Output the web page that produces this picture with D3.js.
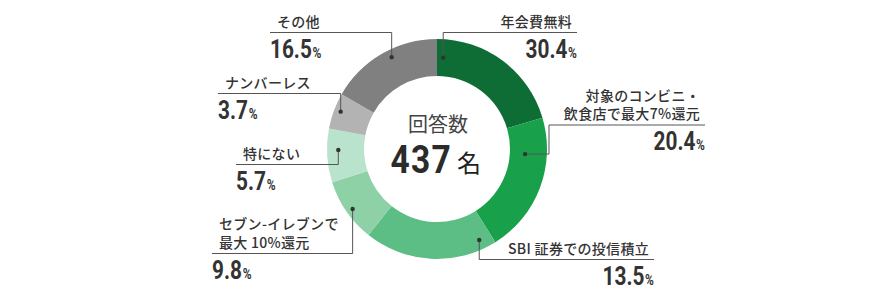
<!DOCTYPE html>
<html>
<head>
<meta charset="utf-8">
<script src="https://cdn.jsdelivr.net/npm/d3@7"></script>
<style>
  html, body { margin: 0; padding: 0; background: #fff; }
  .jp { font-family: 'Noto Sans CJK JP', sans-serif; }
  .num { font-family: 'Roboto', 'Liberation Sans', sans-serif; font-weight: 700; }
</style>
</head>
<body>
<div id="chart"></div>
<script>
// answers, clockwise from 12 o'clock
const categories = [
  ['年会費無料'],
  ['対象のコンビニ・', '飲食店で最大7%還元'],
  ['SBI 証券での投信積立'],
  ['セブン-イレブンで', '最大 10%還元'],
  ['特にない'],
  ['ナンバーレス'],
  ['その他']
];
// printed percentages
const shares = [30.4, 20.4, 13.5, 9.8, 5.7, 3.7, 16.5];
// the source graphic draws the arcs at these sizes (measured), not at the printed ones
const arcShares = [20.4, 20.7, 19.6, 9.4, 7.9, 5.3, 16.7];
const respondents = 437;
const colors = ['#0e6d35', '#19a04b', '#5dbe85', '#8fd1a7', '#b9e3cc', '#b3b3b3', '#808080'];

// leader layout: dot in polar (deg from top, radius), optional bend x, line y, line end x, side
const leaders = [
  { a: 3.9,   r: 91.5,  lineY: 32.5,  endX: 577, side: 'right' },
  { a: 93.3,  r: 88.2,  bendX: 549, lineY: 125, endX: 705, side: 'right' },
  { a: 155.1, r: 100.3, lineY: 259.5, endX: 654, side: 'right' },
  { a: 234.6, r: 103.5, lineY: 253.5, endX: 212, side: 'left' },
  { a: 269.4, r: 98.7,  lineY: 164.5, endX: 236, side: 'left' },
  { a: 291.2, r: 103.3, lineY: 93.5,  endX: 218, side: 'left' },
  { a: 333.7, r: 102.3, lineY: 32.5,  endX: 270, side: 'left' }
];

const width = 880, height = 300;
const cx = 437, cy = 149;
const outerR = 110, innerR = 73;
const squeeze = 0.8; // condensed look for the figures

const svg = d3.select('#chart')
  .append('svg')
  .attr('width', width)
  .attr('height', height);

const pie = d3.pie().sort(null).value(d => d);
const arc = d3.arc().innerRadius(innerR).outerRadius(outerR);

const donut = svg.append('g')
  .attr('transform', 'translate(' + cx + ',' + cy + ')');

donut.selectAll('path.slice')
  .data(pie(arcShares))
  .enter()
  .append('path')
  .attr('class', 'slice')
  .attr('d', arc)
  .attr('fill', (d, i) => colors[i]);

function polar(a, r) {
  var t = a * Math.PI / 180;
  return [cx + r * Math.sin(t), cy - r * Math.cos(t)];
}

const labels = svg.append('g').attr('class', 'labels');

leaders.forEach(function(l, i) {
  var p = polar(l.a, l.r);
  var bx = l.bendX != null ? l.bendX : p[0];
  var pts = [p, [bx, p[1]], [bx, l.lineY], [l.endX, l.lineY]];

  labels.append('path')
    .attr('d', d3.line()(pts))
    .attr('fill', 'none')
    .attr('stroke', '#555')
    .attr('stroke-width', 1);

  labels.append('circle')
    .attr('cx', p[0])
    .attr('cy', p[1])
    .attr('r', 2.2)
    .attr('fill', '#333');

  var right = l.side === 'right';
  var lines = categories[i];
  var tx = right ? l.endX - 5 : l.endX + 7;
  lines.forEach(function(s, j) {
    labels.append('text')
      .attr('class', 'jp')
      .attr('x', tx)
      .attr('y', l.lineY - 6 - (lines.length - 1 - j) * 18.5)
      .attr('text-anchor', right ? 'end' : 'start')
      .attr('font-size', 14)
      .attr('font-weight', 500)
      .attr('letter-spacing', 0.3)
      .attr('fill', '#333')
      .text(s);
  });

  var num = labels.append('g')
    .attr('transform', 'translate(' + l.endX + ',' + (l.lineY + 25) + ') scale(' + squeeze + ',1)')
    .append('text')
    .attr('class', 'num')
    .attr('x', 0)
    .attr('y', 0)
    .attr('text-anchor', right ? 'end' : 'start')
    .attr('fill', '#333');
  num.append('tspan').attr('font-size', 26).text(shares[i].toFixed(1));
  num.append('tspan').attr('font-size', 15).attr('dx', 1).text('%');
});

// center
const center = svg.append('g');
center.append('text')
  .attr('class', 'jp')
  .attr('x', cx + 1)
  .attr('y', 132)
  .attr('text-anchor', 'middle')
  .attr('font-size', 20)
  .attr('fill', '#444')
  .text('回答数');

center.append('g')
  .attr('transform', 'translate(' + (cx + 15) + ',173) scale(0.86,1)')
  .append('text')
  .attr('class', 'num')
  .attr('text-anchor', 'end')
  .attr('font-size', 39)
  .attr('letter-spacing', 1.5)
  .attr('fill', '#2b2b2b')
  .text(respondents);

center.append('text')
  .attr('class', 'jp')
  .attr('x', cx + 20)
  .attr('y', 172)
  .attr('font-size', 24)
  .attr('fill', '#222')
  .text('名');
</script>
</body>
</html>
